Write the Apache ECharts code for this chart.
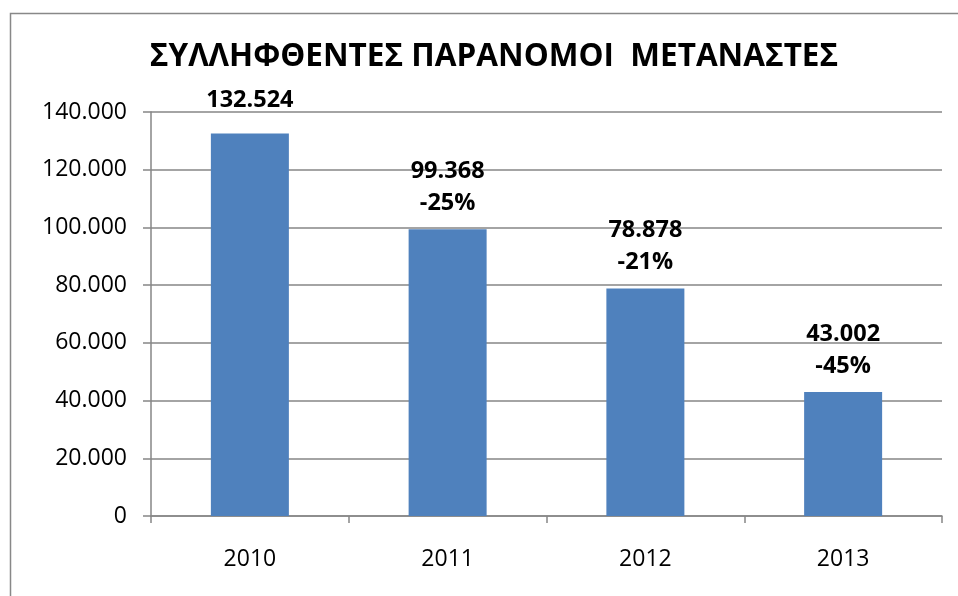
<!DOCTYPE html>
<html><head><meta charset="utf-8">
<script src="https://cdn.jsdelivr.net/npm/echarts@6/dist/echarts.min.js"></script>
<style>html,body{margin:0;padding:0;background:#fff}#c{width:958px;height:596px}</style>
</head><body><div id="c"></div>
<script>
var titleText = 'ΣΥΛΛΗΦΘΕΝΤΕΣ ΠΑΡΑΝΟΜΟΙ  ΜΕΤΑΝΑΣΤΕΣ';
var categories = ['2010', '2011', '2012', '2013'];
var values = [132524, 99368, 78878, 43002];
var changeLabels = ['', '-25%', '-21%', '-45%'];
var yTicks = [0, 20000, 40000, 60000, 80000, 100000, 120000, 140000];

function fmt(n) { return String(n).replace(/\B(?=(\d{3})+(?!\d))/g, '.'); }
var FONT = '"Open Sans", sans-serif';
var chart = echarts.init(document.getElementById('c'), null, {renderer: 'canvas'});
chart.setOption({
  animation: false,
  backgroundColor: '#fff',
  graphic: [{type: 'rect', shape: {x: 10.5, y: 13.5, width: 980, height: 620}, style: {fill: 'none', stroke: '#888', lineWidth: 1.5}, z: -1}],
  title: {text: titleText, left: 489, top: 36, textAlign: 'center',
    textStyle: {fontFamily: FONT, fontWeight: 'bold', fontSize: 31.5, color: '#000'}},
  grid: {left: 151, right: 16, top: 112, bottom: 80},
  xAxis: {type: 'category', data: categories,
    axisLine: {lineStyle: {color: '#868686', width: 1.5}},
    axisTick: {show: true, length: 7, lineStyle: {color: '#868686', width: 1.5}},
    axisLabel: {margin: 32, fontFamily: FONT, fontSize: 23, color: '#000'}},
  yAxis: {type: 'value', min: yTicks[0], max: yTicks[yTicks.length - 1], interval: yTicks[1] - yTicks[0],
    axisLine: {show: true, lineStyle: {color: '#868686', width: 1.5}},
    axisTick: {show: true, length: 8, lineStyle: {color: '#868686', width: 1.5}},
    splitLine: {lineStyle: {color: '#868686', width: 1.5}},
    axisLabel: {margin: 24, fontFamily: FONT, fontSize: 23, color: '#000', formatter: function (v) { return fmt(v); }}},
  series: [{type: 'bar', barWidth: 78,
    data: values.map(function (v, i) { return i === 0 ? {value: v, label: {distance: 17}} : v; }),
    itemStyle: {color: '#4F81BD'},
    label: {show: true, position: 'top', distance: 10, fontFamily: FONT, fontWeight: 'bold', fontSize: 23.5, color: '#000', lineHeight: 32,
      formatter: function (p) { var c = changeLabels[p.dataIndex]; return fmt(p.value) + (c ? '\n' + c : ''); }}}]
});
</script></body></html>
